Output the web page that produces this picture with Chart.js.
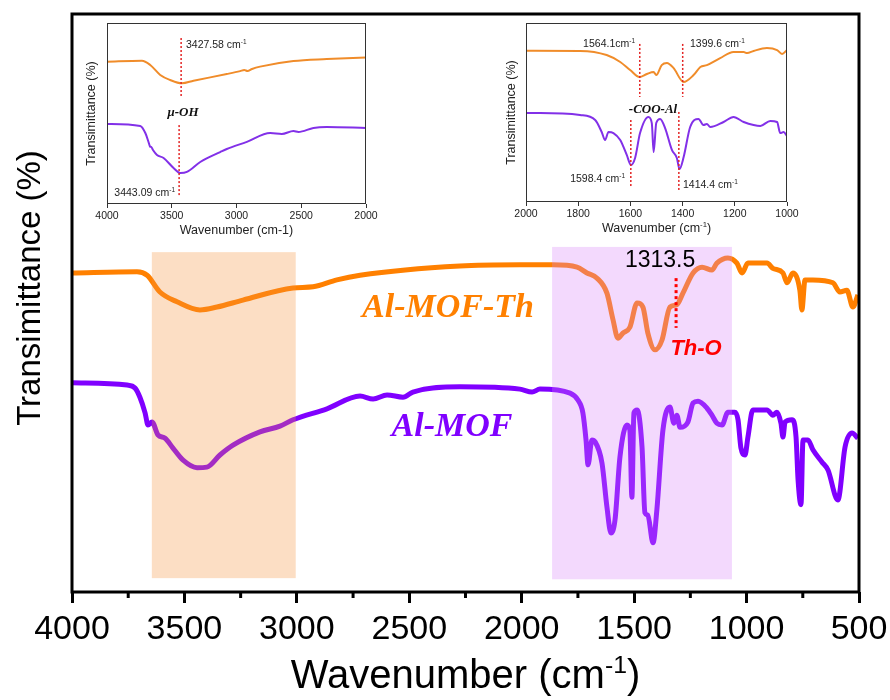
<!DOCTYPE html>
<html>
<head>
<meta charset="utf-8">
<script src="https://cdn.jsdelivr.net/npm/chart.js@4.4.1/dist/chart.umd.min.js"></script>
<style>
  body { margin: 0; background: #fff; }
  #wrap { position: relative; width: 890px; height: 700px; }
  canvas { position: absolute; }
</style>
</head>
<body>
<div id="wrap">
  <canvas id="main" width="890" height="700" style="left:0;top:0"></canvas>
  <canvas id="inset1" width="320" height="232" style="left:60px;top:16px"></canvas>
  <canvas id="inset2" width="330" height="232" style="left:480px;top:16px"></canvas>
</div>
<script>
// ---- full spectra (wavenumber in cm-1, offset transmittance) ----
const thWn = [4000,3711,3666,3609,3533,3431,3355,3240,3017,2928,2822,2719,2275,2008,1861,1754,1710,1665,1621,1594,1572,1550,1519,1487,1461,1439,1407,1376,1341,1310,1283,1238,1198,1154,1132,1083,1043,1020,994,909,883,838,820,794,763,754,740,705,616,585,554,527,505];
const thT  = [55.2,55.4,54.8,51.9,50.2,48.8,49.3,50.5,52.6,52.8,54.0,54.8,56.4,56.6,56.6,56.2,55.2,54.3,51.7,47.1,43.9,44.8,45.8,50.0,49.3,44.8,41.9,43.6,49.3,49.7,51.7,55.2,56.2,55.7,56.9,57.8,56.9,55.2,56.9,56.9,56.0,55.2,53.5,55.2,52.2,48.8,54.0,54.0,53.5,51.9,52.2,49.3,51.4];

const mofWn = [4000,3755,3720,3698,3675,3662,3644,3618,3586,3551,3506,3444,3400,3342,3284,3164,3075,3017,2866,2719,2661,2599,2528,2484,2275,2008,1954,1919,1785,1750,1728,1714,1705,1688,1674,1643,1621,1603,1585,1563,1532,1519,1510,1501,1487,1465,1452,1439,1416,1399,1372,1341,1323,1310,1296,1261,1238,1216,1176,1154,1132,1109,1083,1052,1038,1025,1007,994,972,909,883,865,847,838,829,798,780,771,758,749,727,705,665,638,594,562,531,505];
const mofT  = [36.2,35.8,35.3,33.7,31.0,28.9,29.4,27.2,26.6,24.9,22.8,21.5,21.6,23.7,25.4,27.7,28.7,29.8,31.7,33.9,33.4,34.1,33.7,34.6,35.5,35.1,34.6,35.1,34.4,33.2,31.0,26.3,22.0,26.3,26.0,22.3,14.7,10.2,12.5,23.4,28.9,28.0,16.4,31.0,31.5,25.1,13.7,13.3,8.5,14.2,28.0,32.0,29.2,30.6,28.5,29.4,32.7,33.0,31.8,30.6,29.2,28.9,31.1,31.1,29.8,24.9,23.7,26.8,31.5,31.5,30.6,31.1,29.2,26.8,29.4,29.8,26.8,19.4,15.1,26.3,26.3,24.6,22.5,21.1,15.9,25.1,27.5,26.6];

// shaded regions: O-H stretch and carboxylate region
const bandFrom   = [3645, 1865];
const bandTo     = [3005, 1065];
const bandTop    = [58.8, 59.7];
const bandBottom = [2.4, 2.2];

// Th-O marker
const thoWn = 1313.5;
const thoTop = 54.3, thoBottom = 45.7;

// ---- inset 1: 4000-2000 cm-1 ----
const in1ThWn  = [4000,3730,3666,3589,3512,3422,3332,3075,2972,2940,2915,2880,2818,2560,2303,2000];
const in1ThT   = [78.6,79.2,76.8,71.3,68.5,66.7,68.1,71.8,73.4,74.0,73.5,74.6,75.9,79.0,80.1,81.0];
const in1MofWn = [4000,3743,3704,3680,3668,3658,3645,3614,3563,3486,3434,3383,3280,3126,3075,2920,2740,2650,2560,2522,2406,2303,2000];
const in1MofT  = [44.2,43.1,39.2,34.4,31.8,31.5,29.8,27.1,25.4,19.9,17.1,17.7,23.2,28.7,30.4,34.3,39.2,38.7,40.3,39.8,42.0,42.5,42.0];
const in1PeakWn     = [3427.58, 3443.09];
const in1PeakTop    = [91.7, 43.6];
const in1PeakBottom = [59.7, 4.4];

// ---- inset 2: 2000-1000 cm-1 ----
const in2ThWn  = [2000,1793,1691,1639,1601,1565,1537,1511,1501,1480,1460,1435,1396,1358,1332,1307,1256,1205,1166,1153,1128,1077,1038,1019,1000];
const in2ThT   = [84.5,84.4,82.1,78.2,73.7,69.8,71.5,72.6,70.9,76.5,77.7,74.9,67.0,70.9,75.4,76.5,80.4,83.8,83.8,83.2,84.4,86.0,84.9,82.7,84.9];
const in2MofWn = [2000,1946,1793,1735,1710,1697,1684,1665,1639,1614,1598,1582,1563,1531,1518,1511,1501,1486,1467,1441,1422,1412,1396,1371,1339,1320,1307,1294,1243,1205,1166,1128,1102,1064,1038,1026,1013,1000];
const in2MofT  = [49.7,49.7,48.6,45.8,39.1,34.6,39.1,38.5,34.6,26.3,20.7,24.6,38.5,47.5,44.1,27.9,44.1,46.4,41.3,29.1,24.6,18.4,25.1,41.9,46.4,43.0,43.6,41.9,44.7,47.5,44.7,43.0,42.5,45.3,44.7,38.5,39.1,36.9];
const in2PeakWn     = [1564.1, 1399.6, 1598.4, 1414.4];
const in2PeakTop    = [88.3, 88.3, 45.8, 50.3];
const in2PeakBottom = [58.7, 58.7, 7.8, 6.7];

const SANS = '"Liberation Sans", Arial, sans-serif';
const SERIF = '"Liberation Serif", "Times New Roman", serif';

function pairs(xs, ys) {
    return xs.map((x, i) => ({ x: x, y: ys[i] }));
}

// text with a raised part, e.g. cm + "-1"
function supText(ctx, base, sup, tail, x, y, size, align, color) {
    ctx.fillStyle = color || '#000';
    ctx.textAlign = 'left';
    ctx.textBaseline = 'alphabetic';
    ctx.font = size + 'px ' + SANS;
    const w1 = ctx.measureText(base).width;
    const w3 = ctx.measureText(tail).width;
    ctx.font = (size * 0.62) + 'px ' + SANS;
    const w2 = ctx.measureText(sup).width;
    const total = w1 + w2 + w3;
    let x0 = x;
    if (align === 'center') x0 = x - total / 2;
    if (align === 'right') x0 = x - total;
    ctx.font = size + 'px ' + SANS;
    ctx.fillText(base, x0, y);
    ctx.fillText(tail, x0 + w1 + w2, y);
    ctx.font = (size * 0.62) + 'px ' + SANS;
    ctx.fillText(sup, x0 + w1, y - size * 0.38);
}

function plainText(ctx, text, x, y, font, color, align) {
    ctx.font = font;
    ctx.fillStyle = color;
    ctx.textAlign = align || 'center';
    ctx.textBaseline = 'alphabetic';
    ctx.fillText(text, x, y);
}

function dotted(ctx, xs, yTop, yBottom, color, width, dash) {
    ctx.save();
    ctx.strokeStyle = color;
    ctx.lineWidth = width;
    ctx.setLineDash(dash);
    ctx.beginPath();
    ctx.moveTo(xs, yTop);
    ctx.lineTo(xs, yBottom);
    ctx.stroke();
    ctx.restore();
}

// ---------------- main chart ----------------
const mainDecor = {
    id: 'mainDecor',
    afterDatasetsDraw(chart) {
        const ctx = chart.ctx, x = chart.scales.x, y = chart.scales.y;
        const fills = ['rgba(245,145,58,0.3)', 'rgba(215,128,248,0.3)'];
        ctx.save();
        for (let i = 0; i < bandFrom.length; i++) {
            const x1 = x.getPixelForValue(bandFrom[i]), x2 = x.getPixelForValue(bandTo[i]);
            const y1 = y.getPixelForValue(bandTop[i]), y2 = y.getPixelForValue(bandBottom[i]);
            ctx.fillStyle = fills[i];
            ctx.fillRect(x1, y1, x2 - x1, y2 - y1);
        }
        ctx.restore();
    },
    afterDraw(chart) {
        const ctx = chart.ctx, a = chart.chartArea, x = chart.scales.x, y = chart.scales.y;
        ctx.save();

        // minor ticks
        ctx.strokeStyle = '#000';
        ctx.lineWidth = 3;
        x.ticks.forEach(t => {
            if (t.value % 500 !== 0) {
                const px = x.getPixelForValue(t.value);
                ctx.beginPath();
                ctx.moveTo(px, a.bottom);
                ctx.lineTo(px, a.bottom + 6);
                ctx.stroke();
            }
        });

        // frame
        ctx.lineWidth = 3;
        ctx.strokeRect(a.left, a.top, a.right - a.left, a.bottom - a.top);

        // Th-O marker
        const mx = x.getPixelForValue(thoWn);
        dotted(ctx, mx, y.getPixelForValue(thoTop), y.getPixelForValue(thoBottom), '#ff0000', 3, [3, 3]);
        plainText(ctx, '1313.5', mx - 16, 267, '23px ' + SANS, '#000', 'center');
        plainText(ctx, 'Th-O', mx + 20, 355, 'italic bold 22px ' + SANS, '#ff0000', 'center');

        // sample names
        plainText(ctx, 'Al-MOF-Th', 448, 317, 'italic bold 34px ' + SERIF, '#ff8000', 'center');
        plainText(ctx, 'Al-MOF', 452, 436, 'italic bold 34px ' + SERIF, '#8000ff', 'center');

        // axis titles
        supText(ctx, 'Wavenumber (cm', '-1', ')', (a.left + a.right) / 2, 688, 40, 'center', '#000');
        ctx.save();
        ctx.translate(31, 288);
        ctx.rotate(-Math.PI / 2);
        ctx.font = '33px ' + SANS;
        ctx.fillStyle = '#000';
        ctx.textAlign = 'center';
        ctx.textBaseline = 'middle';
        ctx.fillText('Transimittance (%)', 0, 0);
        ctx.restore();

        ctx.restore();
    }
};

new Chart(document.getElementById('main'), {
    type: 'line',
    data: {
        datasets: [
            { label: 'Al-MOF-Th', data: pairs(thWn, thT), borderColor: '#ff8000', borderWidth: 5,
              pointRadius: 0, cubicInterpolationMode: 'monotone' },
            { label: 'Al-MOF', data: pairs(mofWn, mofT), borderColor: '#8000ff', borderWidth: 5,
              pointRadius: 0, cubicInterpolationMode: 'monotone' }
        ]
    },
    options: {
        responsive: false,
        animation: false,
        layout: { padding: { top: 14, right: 31, left: 0, bottom: 0 } },
        plugins: { legend: { display: false }, tooltip: { enabled: false } },
        scales: {
            x: {
                type: 'linear', reverse: true, min: 500, max: 4000,
                // fixed axis box; end labels may overhang the plot edges
                afterFit: s => { s.height = 108; s.paddingLeft = 0; s.paddingRight = 0; },
                ticks: {
                    stepSize: 250, autoSkip: false, maxRotation: 0, padding: 6,
                    color: '#000', font: { family: SANS, size: 34 },
                    callback: v => (v % 500 === 0 ? String(v) : '')
                },
                grid: {
                    drawOnChartArea: false, tickLength: 11, tickWidth: 3,
                    tickColor: c => (c.tick && c.tick.value % 500 === 0 ? '#000' : 'rgba(0,0,0,0)')
                },
                border: { display: false }
            },
            y: {
                min: 0, max: 100,
                afterFit: s => { s.width = 72; },
                ticks: { display: false },
                grid: { display: false },
                border: { display: false }
            }
        }
    },
    plugins: [mainDecor]
});

// ---------------- insets ----------------
function insetDecor(o) {
    return {
        id: 'insetDecor',
        afterDraw(chart) {
            const ctx = chart.ctx, a = chart.chartArea, x = chart.scales.x, y = chart.scales.y;
            ctx.save();
            ctx.strokeStyle = '#333';
            ctx.lineWidth = 1;
            ctx.strokeRect(a.left + 0.5, a.top + 0.5, a.right - a.left - 1, a.bottom - a.top - 1);

            for (let i = 0; i < o.peakWn.length; i++) {
                dotted(ctx, x.getPixelForValue(o.peakWn[i]), y.getPixelForValue(o.peakTop[i]),
                       y.getPixelForValue(o.peakBottom[i]), '#e32222', 1.5, [2, 2]);
            }
            o.labels.forEach(l => {
                if (l.sup) supText(ctx, l.text, l.sup, '', l.x, l.y, 10.5, l.align, '#222');
                else plainText(ctx, l.text, l.x, l.y, 'italic bold 13px ' + SERIF, '#111', 'center');
            });

            const cx = (a.left + a.right) / 2;
            if (o.supTitle) supText(ctx, 'Wavenumber (cm', '-1', ')', cx, o.titleY, 12.5, 'center', '#222');
            else plainText(ctx, 'Wavenumber (cm-1)', cx, o.titleY, '12.5px ' + SANS, '#222', 'center');

            ctx.translate(32, (a.top + a.bottom) / 2);
            ctx.rotate(-Math.PI / 2);
            ctx.font = '12.5px ' + SANS;
            ctx.fillStyle = '#222';
            ctx.textAlign = 'center';
            ctx.textBaseline = 'middle';
            ctx.fillText('Transimittance (%)', 0, 0);
            ctx.restore();
        }
    };
}

function makeInset(id, o) {
    return new Chart(document.getElementById(id), {
        type: 'line',
        data: {
            datasets: [
                { data: pairs(o.thWn, o.thT), borderColor: '#f08c2a', borderWidth: 2,
                  pointRadius: 0, cubicInterpolationMode: 'monotone' },
                { data: pairs(o.mofWn, o.mofT), borderColor: '#8230e8', borderWidth: 2,
                  pointRadius: 0, cubicInterpolationMode: 'monotone' }
            ]
        },
        options: {
            responsive: false,
            animation: false,
            layout: { padding: { top: 7, right: o.padRight, left: 0, bottom: 0 } },
            plugins: { legend: { display: false }, tooltip: { enabled: false } },
            scales: {
                x: {
                    type: 'linear', reverse: true, min: o.min, max: o.max,
                    afterFit: s => { s.height = o.xh; s.paddingLeft = 0; s.paddingRight = 0; },
                    ticks: {
                        stepSize: o.step, autoSkip: false, maxRotation: 0, padding: 2,
                        color: '#222', font: { family: SANS, size: 10.5 },
                        callback: v => String(v)
                    },
                    grid: { drawOnChartArea: false, tickLength: 4, tickWidth: 1, tickColor: '#333' },
                    border: { display: false }
                },
                y: {
                    min: 0, max: 100,
                    afterFit: s => { s.width = o.yw; },
                    ticks: { display: false },
                    grid: { display: false },
                    border: { display: false }
                }
            }
        },
        plugins: [insetDecor(o)]
    });
}

makeInset('inset1', {
    thWn: in1ThWn, thT: in1ThT, mofWn: in1MofWn, mofT: in1MofT,
    peakWn: in1PeakWn, peakTop: in1PeakTop, peakBottom: in1PeakBottom,
    min: 2000, max: 4000, step: 500, yw: 47, xh: 44, padRight: 14,
    titleY: 218, supTitle: false,
    labels: [
        { text: '3427.58 cm', sup: '-1', x: 126, y: 32, align: 'left' },
        { text: '3443.09 cm', sup: '-1', x: 115, y: 180, align: 'right' },
        { text: '\u03BC-OH', x: 123, y: 100 }
    ]
});

makeInset('inset2', {
    thWn: in2ThWn, thT: in2ThT, mofWn: in2MofWn, mofT: in2MofT,
    peakWn: in2PeakWn, peakTop: in2PeakTop, peakBottom: in2PeakBottom,
    min: 1000, max: 2000, step: 200, yw: 46, xh: 46, padRight: 23,
    titleY: 216, supTitle: true,
    labels: [
        { text: '1564.1cm', sup: '-1', x: 155, y: 31, align: 'right' },
        { text: '1399.6 cm', sup: '-1', x: 210, y: 31, align: 'left' },
        { text: '-COO-Al', x: 173, y: 97 },
        { text: '1598.4 cm', sup: '-1', x: 145, y: 166, align: 'right' },
        { text: '1414.4 cm', sup: '-1', x: 203, y: 172, align: 'left' }
    ]
});
</script>
</body>
</html>
